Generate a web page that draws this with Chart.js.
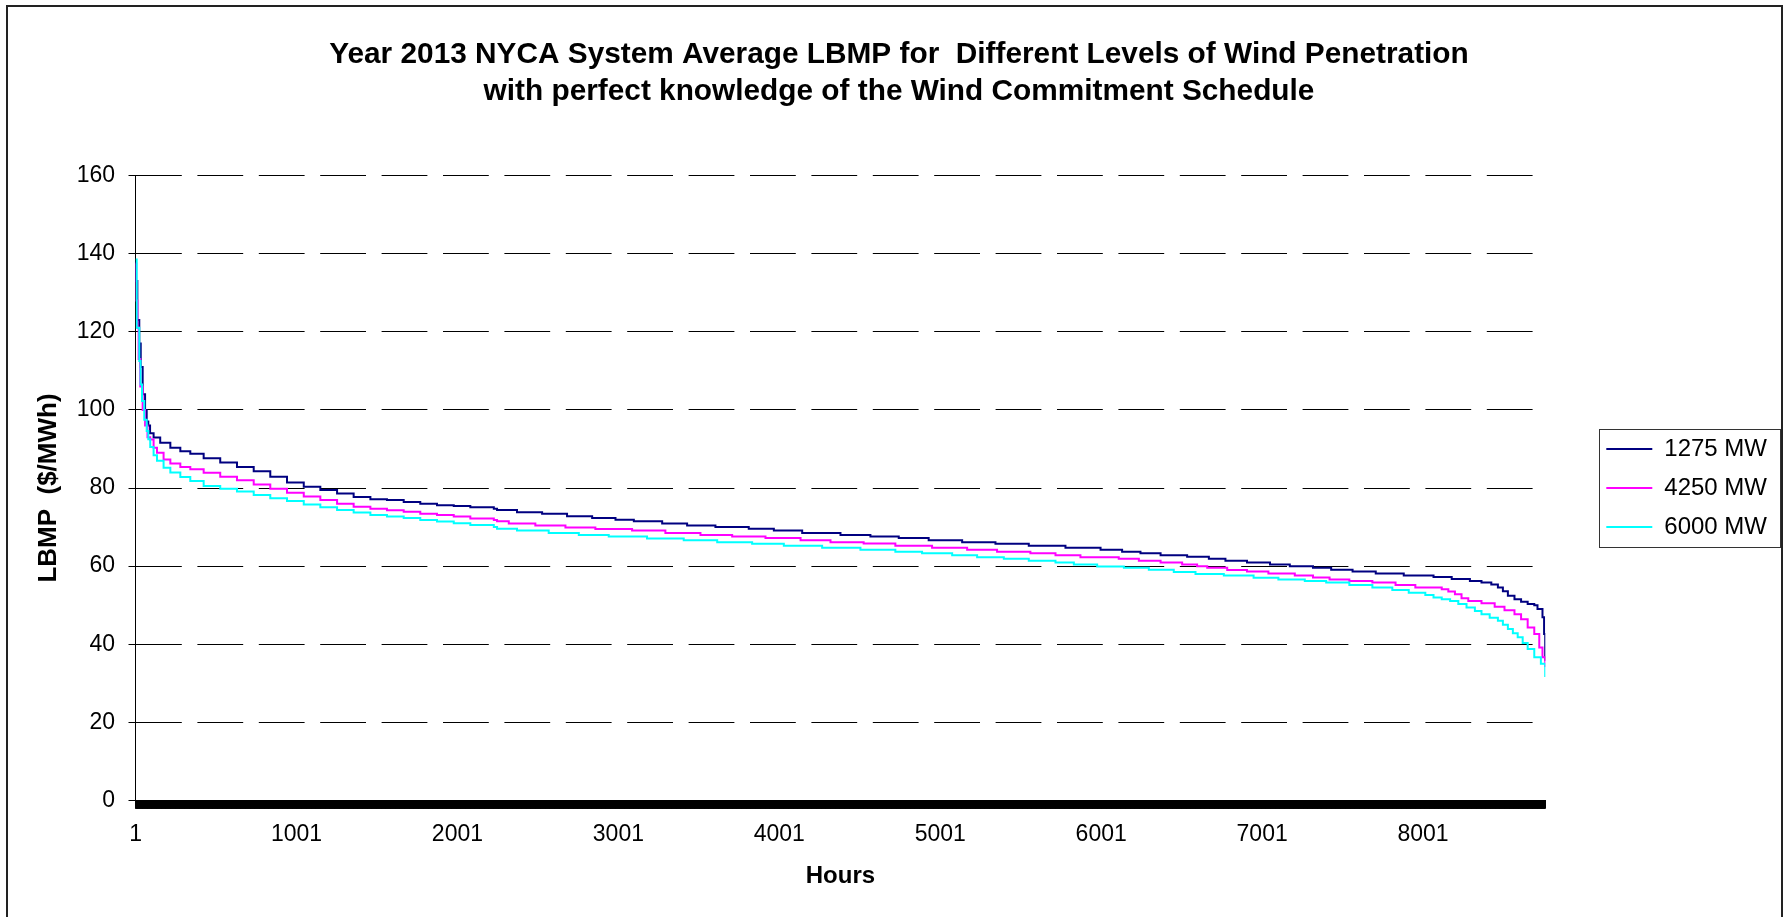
<!DOCTYPE html>
<html>
<head>
<meta charset="utf-8">
<script src="https://cdn.jsdelivr.net/npm/chart.js@4.4.1/dist/chart.umd.min.js"></script>
<style>
  html, body { margin: 0; padding: 0; background: #fff; overflow: hidden; }
  #wrap { position: absolute; left: 0; top: 0; width: 1785px; height: 917px; }
</style>
</head>
<body>
<div id="wrap"><canvas id="c" width="1785" height="917"></canvas></div>
<script>
// Load-duration curves of the NYCA system average LBMP, sorted hour by hour
const titleLines = [
  'Year 2013 NYCA System Average LBMP for  Different Levels of Wind Penetration',
  'with perfect knowledge of the Wind Commitment Schedule'
];
const seriesNames = ['1275 MW', '4250 MW', '6000 MW'];
const seriesColors = ['#000080', '#FF00FF', '#00FFFF'];
const hourTickLabels = ['1', '1001', '2001', '3001', '4001', '5001', '6001', '7001', '8001'];
const totalHours = 8760;

// 1275 MW of wind
const hours1275 = [1,3,12,24,33,45,60,70,80,91,113,154,217,279,341,424,527,631,735,838,942,1046,1149,1253,1356,1460,1563,1667,1770,1874,1978,2081,2227,2247,2371,2527,2682,2838,2983,3097,3273,3428,3604,3811,3967,4143,4381,4567,4743,4929,5137,5344,5551,5779,5997,6131,6245,6370,6535,6670,6773,6907,7050,7173,7317,7430,7563,7707,7881,8066,8179,8292,8364,8425,8466,8497,8528,8569,8610,8651,8692,8712,8743,8753,8760];
const lbmp1275 = [138,133,123,117,111,104,100,97,96,94,92.9,91.6,90.3,89.4,88.8,87.6,86.5,85.4,84.3,82.9,81.4,80.3,79.5,78.6,77.7,77.1,76.9,76.4,76.0,75.6,75.4,75.1,74.7,74.4,73.8,73.4,72.8,72.3,71.9,71.5,70.9,70.4,70.0,69.6,69.1,68.5,68.0,67.6,67.2,66.6,66.1,65.7,65.2,64.7,64.2,63.7,63.3,62.8,62.4,61.9,61.4,60.9,60.4,60.0,59.6,59.1,58.6,58.1,57.6,57.2,56.7,56.2,55.8,55.3,54.5,53.6,52.4,51.5,50.9,50.3,50.0,49.0,46.9,42.6,35.8];

// 4250 MW of wind
const hours4250 = [1,5,12,20,30,45,60,75,92,113,134,175,217,279,341,424,527,631,735,838,942,1046,1149,1253,1356,1460,1563,1667,1770,1874,1978,2081,2227,2247,2320,2485,2672,2858,3086,3293,3511,3708,3915,4133,4319,4525,4722,4950,5168,5354,5561,5717,5872,6110,6235,6370,6504,6597,6660,6784,6907,7040,7204,7317,7420,7543,7686,7830,7953,8117,8158,8199,8240,8282,8364,8446,8507,8569,8610,8651,8692,8723,8743,8760];
const lbmp4250 = [137.5,128,121,113,106,100,96,93,92.4,90.3,89.0,87.3,86.3,85.4,84.8,83.9,82.9,82.0,80.9,79.8,78.8,77.8,76.9,76.0,75.2,74.7,74.3,73.9,73.4,73.1,72.7,72.2,71.8,71.5,70.9,70.4,69.9,69.5,69.1,68.5,68.0,67.6,67.2,66.6,66.1,65.8,65.2,64.7,64.2,63.7,63.3,62.8,62.3,61.9,61.4,60.9,60.4,60.0,59.6,59.0,58.6,58.1,57.6,57.1,56.6,56.2,55.8,55.2,54.5,54.1,53.5,52.8,51.8,51.1,50.5,49.6,48.7,47.7,46.4,44.3,42.6,39.2,36.7,34.2];

// 6000 MW of wind
const hours6000 = [1,8,24,32,41,55,70,80,92,113,134,175,217,279,341,424,527,631,735,838,942,1046,1149,1253,1356,1460,1563,1667,1770,1874,1978,2081,2227,2247,2371,2568,2755,2941,3179,3407,3615,3832,4029,4267,4505,4722,4888,5075,5230,5396,5551,5717,5831,5976,6142,6297,6452,6587,6763,6948,7102,7266,7399,7543,7686,7810,7912,8015,8066,8117,8169,8220,8271,8323,8364,8415,8466,8497,8528,8559,8589,8620,8651,8692,8733,8760];
const lbmp6000 = [138.5,121,112.5,106.5,102.3,97.5,94.6,92.5,90.5,88.4,87.0,85.2,84.0,82.8,81.8,80.5,79.8,79.1,78.2,77.4,76.7,75.8,75.1,74.4,73.7,73.1,72.7,72.3,71.8,71.4,71.0,70.5,70.0,69.6,69.1,68.5,68.0,67.6,67.1,66.6,66.1,65.7,65.2,64.7,64.2,63.7,63.3,62.8,62.3,61.9,61.4,60.9,60.4,59.9,59.6,59.1,58.5,58.0,57.6,57.0,56.6,56.2,55.8,55.2,54.5,53.9,53.2,52.6,52.0,51.5,51.1,50.3,49.4,48.5,47.7,46.8,46.0,45.0,43.9,42.8,41.8,40.3,38.8,36.7,35.0,31.6];

const FONT = "'Liberation Sans', Arial, Helvetica, sans-serif";
const toPoints = (hours, values) => hours.map((h, i) => ({ x: h, y: values[i] }));
// one tick mark per hour along the category axis
const everyHour = Array.from({ length: totalHours }, (_, i) => i + 1);

// white page with the dark outer frame
const pageFrame = {
  id: 'pageFrame',
  beforeDraw(chart) {
    const c = chart.ctx;
    c.save();
    c.fillStyle = '#fff';
    c.fillRect(0, 0, chart.width, chart.height);
    c.strokeStyle = '#222';
    c.lineWidth = 2;
    c.strokeRect(7, 6, 1775, 1000);
    c.restore();
  }
};

// thin box around the legend entries
const legendFrame = {
  id: 'legendFrame',
  afterDraw(chart) {
    const lg = chart.legend;
    if (!lg || !lg.legendHitBoxes || !lg.legendHitBoxes.length) return;
    const hb = lg.legendHitBoxes;
    const left = Math.min(...hb.map(b => b.left)) - 7;
    const right = Math.max(...hb.map(b => b.left + b.width)) + 13;
    const top = hb[0].top - 8;
    const last = hb[hb.length - 1];
    const bottom = last.top + last.height + 8;
    const c = chart.ctx;
    c.save();
    c.strokeStyle = '#333';
    c.lineWidth = 1;
    c.strokeRect(Math.round(left) + 0.5, Math.round(top) + 0.5, Math.round(right - left), Math.round(bottom - top));
    c.restore();
  }
};

const datasets = [
  [hours1275, lbmp1275],
  [hours4250, lbmp4250],
  [hours6000, lbmp6000]
].map(([h, v], i) => ({
  label: seriesNames[i],
  data: toPoints(h, v),
  borderColor: seriesColors[i],
  backgroundColor: seriesColors[i],
  borderWidth: 2,
  pointRadius: 0,
  pointHoverRadius: 0,
  stepped: true,
  fill: false,
  order: 3 - i
}));

new Chart(document.getElementById('c'), {
  type: 'line',
  data: { datasets },
  options: {
    responsive: false,
    animation: false,
    devicePixelRatio: 1,
    events: [],
    layout: { padding: { left: 21, right: 8, top: 0, bottom: 0 } },
    plugins: {
      title: {
        display: true,
        text: titleLines,
        color: '#000',
        font: { family: FONT, size: 29.8, weight: 'bold', lineHeight: 1.242 },
        padding: { top: 36.5, bottom: 65 }
      },
      legend: {
        position: 'right',
        fullSize: false,
        align: 'center',
        labels: {
          usePointStyle: true,
          pointStyle: 'line',
          pointStyleWidth: 46,
          color: '#000',
          padding: 15,
          font: { family: FONT, size: 24 },
          sort: (a, b) => a.datasetIndex - b.datasetIndex
        }
      },
      tooltip: { enabled: false }
    },
    scales: {
      x: {
        type: 'linear',
        bounds: 'data',
        min: 0.5,
        max: totalHours + 0.5,
        afterBuildTicks: axis => { axis.ticks = everyHour.map(v => ({ value: v })); },
        afterFit: axis => { axis.height = 116.5; },
        ticks: {
          autoSkip: false,
          maxRotation: 0,
          minRotation: 0,
          padding: 12,
          color: '#000',
          font: { family: FONT, size: 23 },
          callback: v => (hourTickLabels.includes(String(v)) ? String(v) : '')
        },
        grid: {
          display: true,
          drawOnChartArea: false,
          drawTicks: true,
          tickLength: 8,
          color: '#000',
          lineWidth: 1
        },
        border: { display: true, color: '#000', width: 1 },
        title: {
          display: true,
          text: 'Hours',
          color: '#000',
          font: { family: FONT, size: 24, weight: 'bold', lineHeight: 1.2 },
          padding: { top: 0, bottom: 26 }
        }
      },
      y: {
        min: 0,
        max: 160,
        afterFit: axis => { axis.width = 114.5; },
        ticks: {
          stepSize: 20,
          padding: 13.5,
          color: '#000',
          font: { family: FONT, size: 23 }
        },
        grid: {
          color: '#000',
          lineWidth: 1,
          tickLength: 7,
          tickColor: '#000',
          tickBorderDash: []
        },
        border: { display: true, color: '#000', width: 1, dash: [45.8, 15.6], dashOffset: 0 },
        title: {
          display: true,
          text: 'LBMP  ($/MWh)',
          color: '#000',
          font: { family: FONT, size: 26, weight: 'bold', lineHeight: 1.2 },
          padding: { top: 11.9, bottom: 0 }
        }
      },
      gap: {
        position: 'right',
        display: true,
        afterFit: axis => { axis.width = 46; },
        ticks: { display: false },
        grid: { display: false },
        border: { display: false }
      }
    }
  },
  plugins: [pageFrame, legendFrame]
});
</script>
</body>
</html>
